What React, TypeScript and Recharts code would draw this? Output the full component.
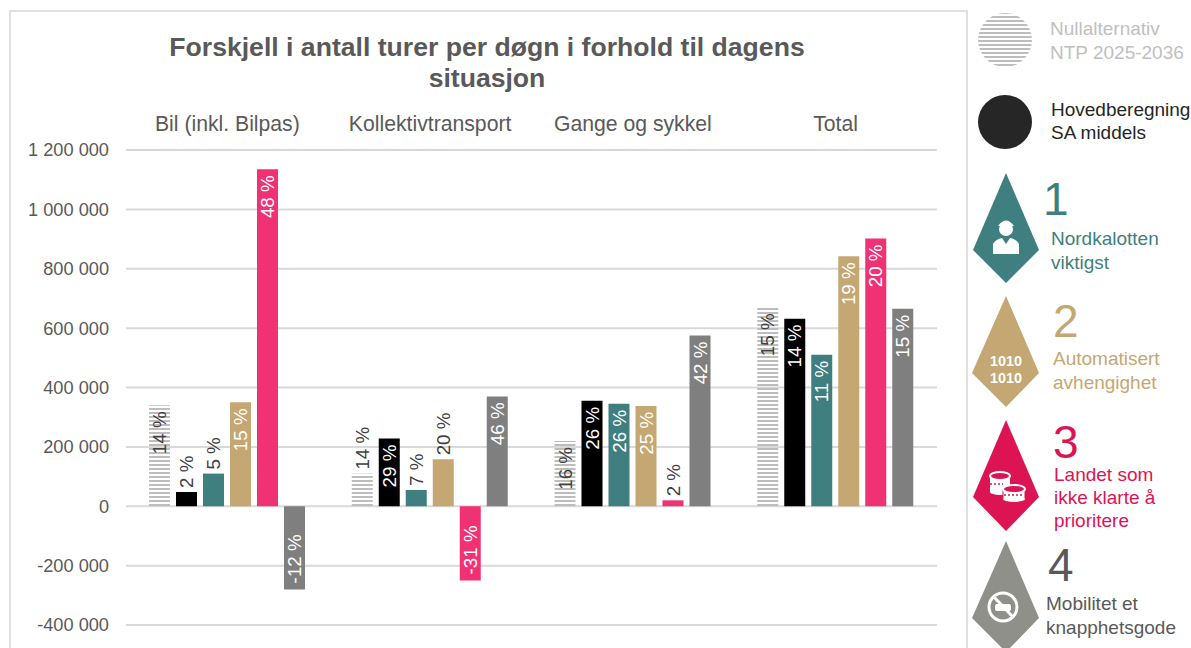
import { BarChart, Bar, XAxis, YAxis, CartesianGrid, LabelList } from "recharts"

const categories = ["Bil (inkl. Bilpas)", "Kollektivtransport", "Gange og sykkel", "Total"]
const yTicks = [-400000, -200000, 0, 200000, 400000, 600000, 800000, 1000000, 1200000]

const nullalternativ = [340000, 110000, 220000, 670000]
const hovedberegning = [48000, 228000, 355000, 632000]
const nordkalotten = [110000, 55000, 345000, 510000]
const automatisert = [350000, 158000, 338000, 842000]
const landet = [1135000, -250000, 20000, 902000]
const mobilitet = [-280000, 370000, 575000, 665000]

const nullPct = ["14 %", "14 %", "16 %", "15 %"]
const hovedPct = ["2 %", "29 %", "26 %", "14 %"]
const nordPct = ["5 %", "7 %", "26 %", "11 %"]
const autoPct = ["15 %", "20 %", "25 %", "19 %"]
const landetPct = ["48 %", "-31 %", "2 %", "20 %"]
const mobilPct = ["-12 %", "46 %", "42 %", "15 %"]

const data = categories.map((name, i) => ({
 name,
 nullalternativ: nullalternativ[i],
 hovedberegning: hovedberegning[i],
 nordkalotten: nordkalotten[i],
 automatisert: automatisert[i],
 landet: landet[i],
 mobilitet: mobilitet[i]
}))

const FONT = "'Liberation Sans', Arial, sans-serif"
const TEXT = "#595959"
const TEAL = "#3f7f7f"
const TAN = "#c4a772"
const PINK = "#f03174"
const GREY = "#7f7f7f"
const CRIMSON = "#dc1454"
const LABEL_DARK = "#404040"

const series = [
 { key: "nullalternativ", fill: "url(#stripes)", pct: nullPct, inside: LABEL_DARK },
 { key: "hovedberegning", fill: "#000000", pct: hovedPct, inside: "#ffffff" },
 { key: "nordkalotten", fill: TEAL, pct: nordPct, inside: "#ffffff" },
 { key: "automatisert", fill: TAN, pct: autoPct, inside: "#ffffff" },
 { key: "landet", fill: PINK, pct: landetPct, inside: "#ffffff" },
 { key: "mobilitet", fill: GREY, pct: mobilPct, inside: "#ffffff" }
]

const formatTick = (v: number) =>
 String(v).replace(/\B(?=(\d{3})+(?!\d))/g, " ")

// rotated percent label, short bars get it above the bar
function pctLabel(pct: string[], insideColor: string, values: number[]) {
 return (props: any) => {
  const { x, y, width, height, index } = props
  const value = values[index]
  const top = Math.min(y, y + height)
  const bottom = Math.max(y, y + height)
  const cx = x + width / 2
  let py = top + 6
  let anchor = "end"
  let fill = insideColor
  if (value < 0) {
   py = bottom - 6
   anchor = "start"
  } else if (value < 200000) {
   py = top - 4
   anchor = "start"
   fill = LABEL_DARK
  }
  return (
   <text
    x={cx}
    y={py}
    transform={`rotate(-90 ${cx} ${py})`}
    textAnchor={anchor}
    dominantBaseline="central"
    fontSize={18.8}
    fontFamily={FONT}
    fill={fill}
   >
    {pct[index]}
   </text>
  )
 }
}

const valuesFor: Record<string, number[]> = {
 nullalternativ, hovedberegning, nordkalotten, automatisert, landet, mobilitet
}

function Txt({ x, y, size = 19, color, children }: any) {
 return (
  <div style={{ position: "absolute", left: x, top: y, fontSize: size, color, lineHeight: 1, whiteSpace: "nowrap", fontFamily: FONT }}>
   {children}
  </div>
 )
}

function Icons() {
 return (
  <svg width={231} height={648} style={{ position: "absolute", left: 960, top: 0 }} viewBox="960 0 231 648">
   <defs>
    <pattern id="stripes2" width="4" height="4" patternUnits="userSpaceOnUse">
     <rect width="4" height="2" fill="#bdbdbd" />
    </pattern>
   </defs>
   <circle cx={1005} cy={40} r={27} fill="url(#stripes2)" />
   <circle cx={1005} cy={122} r={27} fill="#262626" />

   <polygon points="1006,173 1039,250 1006,283 973,250" fill={TEAL} />
   <circle cx={1006} cy={229} r={7} fill="#fff" />
   <path d="M998 226 q8 -11 16 0 z" fill="#fff" />
   <path d="M993 254 v-10 q3 -5 9 -6 l4 6 l4 -6 q6 1 9 6 v10 z" fill="#fff" />

   <polygon points="1006,296 1039,373 1006,407 972,373" fill={TAN} />
   <text x={1006} y={366} textAnchor="middle" fontSize={14} fontWeight="bold" textLength={32} lengthAdjust="spacingAndGlyphs" fontFamily={FONT} fill="#fff">1010</text>
   <text x={1006} y={383} textAnchor="middle" fontSize={14} fontWeight="bold" textLength={32} lengthAdjust="spacingAndGlyphs" fontFamily={FONT} fill="#fff">1010</text>

   <polygon points="1006,420 1039,497 1006,531 973,497" fill={CRIMSON} />
   <rect x={990} y={476} width={20} height={16} fill="#fff" />
   <ellipse cx={1000} cy={476} rx={10} ry={4} fill={CRIMSON} stroke="#fff" strokeWidth={2} />
   <ellipse cx={1000} cy={492} rx={10} ry={3} fill="#fff" />
   <line x1={990} y1={484} x2={1003} y2={484} stroke={CRIMSON} strokeWidth={1.5} strokeDasharray="2 2" />
   <rect x={1003} y={490} width={22} height={9} fill="#fff" stroke={CRIMSON} strokeWidth={1} />
   <ellipse cx={1014} cy={489} rx={11} ry={4} fill={CRIMSON} stroke="#fff" strokeWidth={2} />
   <ellipse cx={1014} cy={499} rx={11} ry={3} fill="#fff" />
   <line x1={1004} y1={495} x2={1024} y2={495} stroke={CRIMSON} strokeWidth={1.5} strokeDasharray="2 2" />

   <polygon points="1006,541 1039,618 1006,652 972,618" fill="#90908a" />
   <circle cx={1003} cy={607} r={14} fill="none" stroke="#fff" strokeWidth={3} />
   <rect x={995} y={604} width={16} height={7} rx={2} fill="#fff" />
   <line x1={994} y1={597} x2={1013} y2={617} stroke="#fff" strokeWidth={3} />
  </svg>
 )
}

export default function App() {
 return (
  <div style={{ position: "absolute", left: 0, top: 0, width: 1191, height: 648, overflow: "hidden", background: "#fff", fontFamily: FONT }}>
   {/* frame round the chart, runs off the bottom of the page */}
   <div style={{ position: "absolute", left: 9, top: 10, width: 955, height: 700, border: "2px solid #e0e0e0" }} />

   <div style={{ position: "absolute", left: 87, top: 32, width: 800, textAlign: "center", fontSize: 26.6, lineHeight: "31px", fontWeight: "bold", color: TEXT }}>
    Forskjell i antall turer per døgn i forhold til dagens
    <br />
    situasjon
   </div>

   <div style={{ position: "absolute", left: 0, top: 0 }}>
    <BarChart
     width={1191}
     height={648}
     data={data}
     margin={{ top: 110, right: 254, bottom: 23, left: 0 }}
     barSize={21}
     barGap={6}
    >
     <defs>
      <pattern id="stripes" width="4" height="4" patternUnits="userSpaceOnUse">
       <rect width="4" height="2" fill="#bdbdbd" />
      </pattern>
     </defs>
     <CartesianGrid vertical={false} stroke="#d9d9d9" strokeWidth={2} />
     <XAxis
      dataKey="name"
      orientation="top"
      height={40}
      axisLine={false}
      tickLine={false}
      tickMargin={13}
      tick={{ fontSize: 21.2, fill: TEXT, fontFamily: FONT }}
     />
     <YAxis
      width={126}
      domain={[-400000, 1200000]}
      ticks={yTicks}
      interval={0}
      axisLine={false}
      tickLine={false}
      tickMargin={11}
      tickFormatter={formatTick}
      tick={{ fontSize: 18.2, fill: TEXT, fontFamily: FONT }}
     />
     {series.map(s => (
      <Bar key={s.key} dataKey={s.key} fill={s.fill} isAnimationActive={false}>
       <LabelList dataKey={s.key} content={pctLabel(s.pct, s.inside, valuesFor[s.key])} />
      </Bar>
     ))}
    </BarChart>
   </div>

   <Icons />

   <Txt x={1050} y={19} color="#bfbfbf">Nullalternativ</Txt>
   <Txt x={1050} y={43} color="#bfbfbf">NTP 2025-2036</Txt>
   <Txt x={1051} y={100} color="#262626">Hovedberegning</Txt>
   <Txt x={1051} y={123} color="#262626">SA middels</Txt>

   <Txt x={1043} y={176} size={46} color={TEAL}>1</Txt>
   <Txt x={1051} y={229} color={TEAL}>Nordkalotten</Txt>
   <Txt x={1051} y={253} color={TEAL}>viktigst</Txt>

   <Txt x={1053} y={298} size={46} color={TAN}>2</Txt>
   <Txt x={1053} y={349} color={TAN}>Automatisert</Txt>
   <Txt x={1053} y={373} color={TAN}>avhengighet</Txt>

   <Txt x={1053} y={419} size={46} color={CRIMSON}>3</Txt>
   <Txt x={1054} y={465} color={CRIMSON}>Landet som</Txt>
   <Txt x={1054} y={488} color={CRIMSON}>ikke klarte å</Txt>
   <Txt x={1054} y={511} color={CRIMSON}>prioritere</Txt>

   <Txt x={1048} y={542} size={46} color={TEXT}>4</Txt>
   <Txt x={1046} y={594} color={TEXT}>Mobilitet et</Txt>
   <Txt x={1046} y={618} color={TEXT}>knapphetsgode</Txt>
  </div>
 )
}
